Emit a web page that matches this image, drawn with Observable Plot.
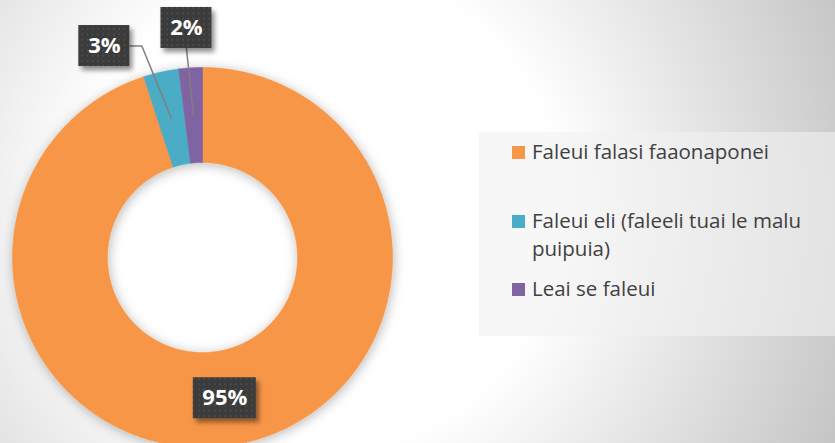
<!DOCTYPE html>
<html><head><meta charset="utf-8">
<script src="https://cdn.jsdelivr.net/npm/d3@7"></script>
<script src="https://cdn.jsdelivr.net/npm/@observablehq/plot@0.6"></script>
<style>
html,body{margin:0;padding:0;}
#wrap{position:relative;width:835px;height:443px;overflow:hidden;
  background:radial-gradient(circle at 320px 210px,#ffffff 0px,#ffffff 240px,#c4c4c4 570px);
  font-family:"Open Sans",sans-serif;}
#chart{position:absolute;left:0;top:0;}
#legend{position:absolute;left:479px;top:132px;width:356px;height:204px;background:rgba(242,242,242,0.6);}
.item{position:absolute;left:53px;width:292px;font-size:20.5px;line-height:28px;color:#404040;}
.sw{position:absolute;left:-20px;top:9px;width:13px;height:13px;}
</style></head><body>
<div id="wrap"><div id="chart"></div><div id="legend"></div></div>
<script>
// ---- data ----
const categories = ["Faleui falasi faaonaponei", "Faleui eli (faleeli tuai le malu puipuia)", "Leai se faleui"];
const values = [95, 3, 2];
const labels = ["95%", "3%", "2%"];
const colors = ["#F79646", "#4BACC6", "#8064A2"];

// ---- layout ----
const W = 835, H = 443, cx = 202, cy = 257, R = 190;
const inner = 0.5;
const layout = {
  labelRadius: [0.75, 1.227, 1.211],
  labelShiftDeg: [0, -12.3, -0.4],
  leader: [null, "side", "bottom"],
  boxH: 41,
  legendTop: [5, 74, 142]
};

const table = categories.map((name, i) => ({name, value: values[i], label: labels[i], color: colors[i]}));
const arcs = d3.pie().sort(null).value(d => d.value)(table);

// ring polygons
const ringPts = [];
arcs.forEach(p => {
  const n = Math.max(4, Math.ceil((p.endAngle - p.startAngle) / (Math.PI / 360)));
  const pts = [];
  for (let i = 0; i <= n; i++) {
    const a = p.startAngle + (p.endAngle - p.startAngle) * i / n;
    pts.push({name: p.data.name, x: Math.sin(a), y: Math.cos(a)});
  }
  for (let i = n; i >= 0; i--) {
    const a = p.startAngle + (p.endAngle - p.startAngle) * i / n;
    pts.push({name: p.data.name, x: inner * Math.sin(a), y: inner * Math.cos(a)});
  }
  pts.push(pts[0]);
  ringPts.push(...pts);
});

const u = px => px / R; // pixel to data units
const labelData = arcs.map((p, i) => {
  const mid = (p.startAngle + p.endAngle) / 2;
  const a = mid + layout.labelShiftDeg[i] * Math.PI / 180;
  const r = layout.labelRadius[i];
  const lx = r * Math.sin(a), ly = r * Math.cos(a);
  const w = 27 + 12 * p.data.label.length;
  return {name: p.data.name, label: p.data.label, cx: lx, cy: ly,
    x1: lx - u(w / 2), x2: lx + u(w / 2), y1: ly - u(layout.boxH / 2), y2: ly + u(layout.boxH / 2),
    px: 0.75 * Math.sin(mid), py: 0.75 * Math.cos(mid), w};
});

const leaderPts = [];
labelData.forEach((d, i) => {
  const kind = layout.leader[i];
  if (kind === "side") {
    leaderPts.push({name: d.name, x: d.x2, y: d.cy});
    leaderPts.push({name: d.name, x: d.x2 + u(12), y: d.cy});
    leaderPts.push({name: d.name, x: d.px, y: d.py});
  } else if (kind === "bottom") {
    leaderPts.push({name: d.name, x: d.cx, y: d.y1});
    leaderPts.push({name: d.name, x: d.px, y: d.py});
  }
});

const plot = Plot.plot({
  width: W, height: H, margin: 0,
  style: {background: "transparent", overflow: "visible"},
  x: {domain: [-cx / R, (W - cx) / R], axis: null},
  y: {domain: [-(H - cy) / R, cy / R], axis: null},
  color: {domain: categories, range: colors},
  marks: [
    Plot.line(ringPts, {x: "x", y: "y", z: "name", fill: "name", stroke: "name", strokeWidth: 0.6, curve: "linear"}),
    Plot.line(leaderPts, {x: "x", y: "y", z: "name", stroke: "#7f7f7f", strokeWidth: 1.5, curve: "linear"}),
    Plot.rect(labelData, {x1: "x1", x2: "x2", y1: "y1", y2: "y2", fill: "url(#dots)"}),
    Plot.text(labelData, {x: "cx", y: "cy", text: "label", fill: "white", fontSize: 22, fontWeight: "bold", fontFamily: "Open Sans"})
  ]
});
document.getElementById("chart").appendChild(plot);

// defs: pattern + shadows
const svg = d3.select(plot.tagName.toLowerCase() === "svg" ? plot : plot.querySelector("svg"));
const defs = svg.insert("defs", ":first-child");
const pat = defs.append("pattern").attr("id", "dots").attr("width", 5.3).attr("height", 5.3).attr("patternUnits", "userSpaceOnUse");
pat.append("rect").attr("width", 5.3).attr("height", 5.3).attr("fill", "#3b3b3b");
pat.append("circle").attr("cx", 2.65).attr("cy", 2.65).attr("r", 0.9).attr("fill", "#545454");
const f1 = defs.append("filter").attr("id", "ringShadow").attr("x", "-20%").attr("y", "-20%").attr("width", "140%").attr("height", "140%");
f1.append("feDropShadow").attr("dx", 1).attr("dy", 2).attr("stdDeviation", 6).attr("flood-color", "#000").attr("flood-opacity", 0.28);
const f2 = defs.append("filter").attr("id", "boxShadow").attr("x", "-30%").attr("y", "-30%").attr("width", "160%").attr("height", "160%");
f2.append("feDropShadow").attr("dx", 3).attr("dy", 4).attr("stdDeviation", 2.5).attr("flood-color", "#000").attr("flood-opacity", 0.45);
svg.selectAll('g[aria-label="line"]').filter((d, i) => i === 0).attr("filter", "url(#ringShadow)");
svg.selectAll('g[aria-label="rect"]').attr("filter", "url(#boxShadow)");

// legend
const legend = d3.select("#legend");
table.forEach((d, i) => {
  const it = legend.append("div").attr("class", "item").style("top", layout.legendTop[i] + "px");
  it.append("div").attr("class", "sw").style("background", d.color);
  it.append("span").text(d.name);
});
</script>
</body></html>
